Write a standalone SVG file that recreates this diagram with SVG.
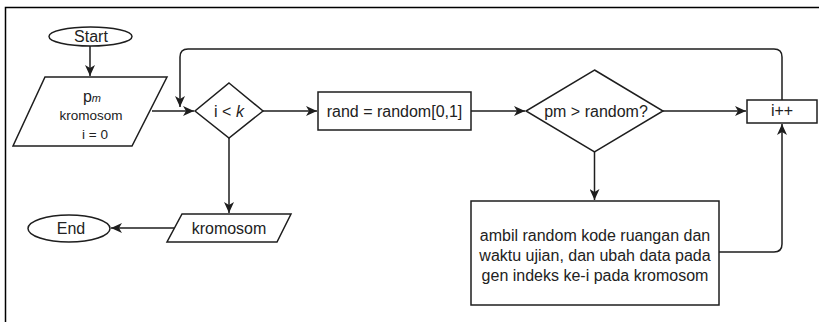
<svg xmlns="http://www.w3.org/2000/svg" width="819" height="322" viewBox="0 0 819 322">
  <defs>
    <style>
      .shape { fill: #ffffff; stroke: #1e1e1e; stroke-width: 1.5; }
      .edge { fill: none; stroke: #1e1e1e; stroke-width: 1.5; marker-end: url(#arrow); }
      .frame { fill: none; stroke: #000000; stroke-width: 1.5; }
      text { font-family: "Liberation Sans", Arial, Helvetica, sans-serif; fill: #222222; font-size: 16px; text-anchor: middle; }
      .small { font-size: 13.5px; }
    </style>
    <marker id="arrow" markerUnits="userSpaceOnUse" markerWidth="12" markerHeight="10" viewBox="0 0 12 10" refX="11" refY="5" orient="auto">
      <path d="M0,0 L11,5 L0,10 L3,5 Z" fill="#1e1e1e"/>
    </marker>
  </defs>

  <rect width="819" height="322" fill="#ffffff"/>

  <!-- page frame -->
  <path class="frame" d="M5.5,322 V7.5 H819"/>

  <!-- connectors -->
  <g id="connectors">
    <path class="edge" d="M90,46 V76"/>
    <path class="edge" d="M152,111 H194"/>
    <path class="edge" d="M782,100 V57 Q782,49 774,49 H188 Q180,49 180,57 V107"/>
    <path class="edge" d="M263,111 H317"/>
    <path class="edge" d="M471,111 H525"/>
    <path class="edge" d="M663,111 H746"/>
    <path class="edge" d="M594.5,152 V200"/>
    <path class="edge" d="M719,252 H774 Q782,252 782,244 V124"/>
    <path class="edge" d="M229,138 V213"/>
    <path class="edge" d="M174,228 H111"/>
  </g>

  <g id="start">
    <ellipse class="shape" cx="90.5" cy="36.5" rx="41.5" ry="9.5"/>
    <text x="91" y="42">Start</text>
  </g>

  <g id="input">
    <polygon class="shape" points="45,77 167,77 132,146 13,146"/>
    <text x="92" y="102" font-size="19">p<tspan font-size="11" font-style="italic">m</tspan></text>
    <text class="small" x="91" y="120">kromosom</text>
    <text class="small" x="95" y="139">i = 0</text>
  </g>

  <g id="loop-check">
    <polygon class="shape" points="229,83 263,111 229,138 195,111"/>
    <text x="229" y="117">i &lt; <tspan font-style="italic">k</tspan></text>
  </g>

  <g id="rand">
    <rect class="shape" x="318" y="92" width="153" height="38"/>
    <text x="394.5" y="117">rand = random[0,1]</text>
  </g>

  <g id="mutate-check">
    <polygon class="shape" points="594.5,70 663,111 594.5,152 526,111"/>
    <text x="596" y="117">pm &gt; random?</text>
  </g>

  <g id="increment">
    <rect class="shape" x="747" y="100" width="70" height="23"/>
    <text x="782" y="116" font-size="15">i++</text>
  </g>

  <g id="mutate">
    <rect class="shape" x="471" y="201" width="248" height="104"/>
    <text x="595" y="241">ambil random kode ruangan dan</text>
    <text x="595" y="261">waktu ujian, dan ubah data pada</text>
    <text x="595" y="281">gen indeks ke-i pada kromosom</text>
  </g>

  <g id="output">
    <polygon class="shape" points="182,214 291,214 277,242 167,242"/>
    <text x="229" y="234">kromosom</text>
  </g>

  <g id="end">
    <ellipse class="shape" cx="69" cy="228.5" rx="41" ry="13.5"/>
    <text x="71" y="234">End</text>
  </g>
</svg>
